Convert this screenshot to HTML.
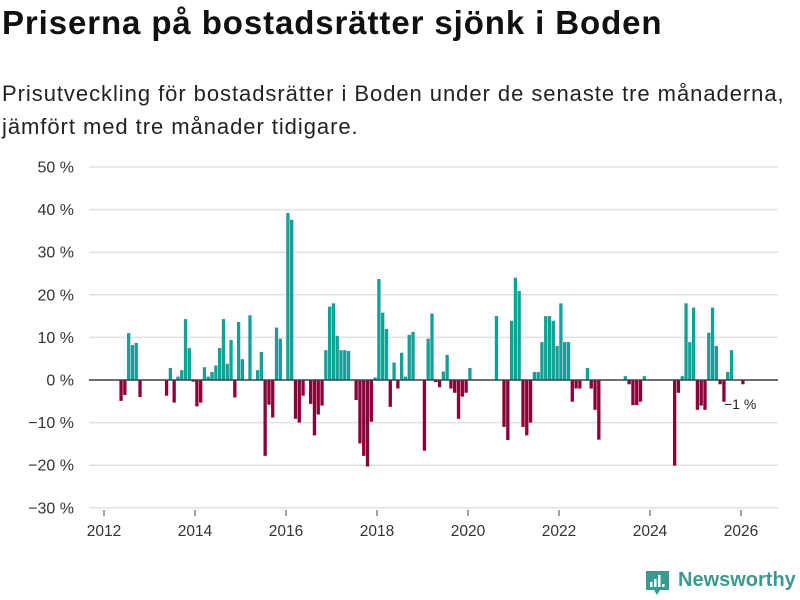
<!DOCTYPE html>
<html><head><meta charset="utf-8"><style>
body{margin:0;width:800px;height:600px;background:#fff;font-family:"Liberation Sans",sans-serif;overflow:hidden;position:relative}
h1{position:absolute;left:2px;top:4px;margin:0;font-size:33px;font-weight:bold;color:#111;letter-spacing:0.9px}
p.sub{position:absolute;left:2px;top:77px;margin:0;font-size:22px;line-height:33px;color:#222;letter-spacing:0.95px}
svg{position:absolute;left:0;top:0}
.logo{position:absolute;left:678px;top:569px;font-size:20px;font-weight:bold;color:#3a9a92}
</style></head><body>
<h1>Priserna på bostadsrätter sjönk i Boden</h1>
<p class="sub">Prisutveckling för bostadsrätter i Boden under de senaste tre månaderna,<br>jämfört med tre månader tidigare.</p>
<svg id="chart" width="800" height="600"></svg>
<svg width="30" height="30" style="left:644px;top:569px">
<path d="M2 2h23v19h-9l-3 5-3-5H2z" fill="#3a9a92"/>
<rect x="6" y="13" width="2.5" height="5" fill="#fff"/><rect x="10" y="10" width="2.5" height="8" fill="#fff"/><rect x="14" y="6" width="2.5" height="12" fill="#fff"/><rect x="18" y="15" width="2.5" height="3" fill="#fff"/>
</svg>
<div class="logo">Newsworthy</div>
<script>
const months = ["2012-05","2012-06","2012-07","2012-08","2012-09","2012-10","2013-05","2013-06","2013-07","2013-08","2013-09","2013-10","2013-11","2013-12","2014-01","2014-02","2014-03","2014-04","2014-05","2014-06","2014-07","2014-08","2014-09","2014-10","2014-11","2014-12","2015-01","2015-03","2015-05","2015-06","2015-07","2015-08","2015-09","2015-10","2015-11","2016-01","2016-02","2016-03","2016-04","2016-05","2016-07","2016-08","2016-09","2016-10","2016-11","2016-12","2017-01","2017-02","2017-03","2017-04","2017-05","2017-07","2017-08","2017-09","2017-10","2017-11","2017-12","2018-01","2018-02","2018-03","2018-04","2018-05","2018-06","2018-07","2018-08","2018-09","2018-10","2019-01","2019-02","2019-03","2019-04","2019-05","2019-06","2019-07","2019-08","2019-09","2019-10","2019-11","2019-12","2020-01","2020-08","2020-10","2020-11","2020-12","2021-01","2021-02","2021-03","2021-04","2021-05","2021-06","2021-07","2021-08","2021-09","2021-10","2021-11","2021-12","2022-01","2022-02","2022-03","2022-04","2022-05","2022-06","2022-08","2022-09","2022-10","2022-11","2023-06","2023-07","2023-08","2023-09","2023-10","2023-11","2024-07","2024-08","2024-09","2024-10","2024-11","2024-12","2025-01","2025-02","2025-03","2025-04","2025-05","2025-06","2025-07","2025-08","2025-09","2025-10","2026-01"];
const values = [-4.9,-3.5,11,8.2,8.7,-4,-3.7,2.8,-5.3,0.8,2.3,14.3,7.5,-0.4,-6.2,-5.3,3,0.8,1.9,3.4,7.5,14.3,3.8,9.4,-4.1,13.6,4.9,15.2,2.3,6.6,-17.8,-5.8,-8.8,12.3,9.7,39.2,37.6,-9.1,-10,-3.7,-5.6,-13,-8.1,-6,7,17.2,18,10.4,7,7,6.8,-4.7,-14.9,-17.8,-20.3,-9.8,0.6,23.7,15.8,12,-6.3,4.1,-2,6.4,0.8,10.6,11.3,-16.6,9.7,15.6,-0.5,-1.7,2,5.9,-2,-3,-9.1,-3.9,-3,2.8,15,-11,-14.1,13.9,24,20.9,-11,-13,-10,1.9,1.9,8.9,15,15,13.9,8,18,8.9,8.9,-5.1,-2,-2,2.8,-2,-7,-14,0.9,-1,-5.9,-5.9,-5.1,0.9,-20.1,-3,0.9,18,8.9,17,-7,-6,-7,11.1,17,8,-1,-5.1,1.9,7,-1];
const yTicks = [50,40,30,20,10,0,-10,-20,-30];
const xTicks = [2012,2014,2016,2018,2020,2022,2024,2026];

const NS="http://www.w3.org/2000/svg";
const svg=document.getElementById('chart');
const x0=104, pxYear=45.5;
function xScale(yr){return x0+(yr-2012)*pxYear;}
function yScale(v){return 380-v*4.26;}
function mk(tag,attrs){const e=document.createElementNS(NS,tag);for(const k in attrs)e.setAttribute(k,attrs[k]);svg.appendChild(e);return e;}

yTicks.forEach(t=>{
  const g=mk('line',{x1:89,x2:778,y1:yScale(t),y2:yScale(t),stroke:'#e0e0e0','stroke-width':1.5});
  
  
  const lb=mk('text',{x:74,y:yScale(t)+5.5,'text-anchor':'end','font-size':16,fill:'#333','font-family':'Liberation Sans, sans-serif'});
  lb.textContent=(t<0?'\u2212'+(-t):t)+' %';
  
  
});
xTicks.forEach(t=>{
  const tk=mk('line',{x1:xScale(t),x2:xScale(t),y1:510,y2:516,stroke:'#444','stroke-width':1});
  
  
  const lb=mk('text',{x:xScale(t),y:536,'text-anchor':'middle','font-size':15.5,fill:'#333','font-family':'Liberation Sans, sans-serif'});
  lb.textContent=t;
  
  
});
const bw=3.3;
months.forEach((m,i)=>{
  const [yy,mm]=m.split('-').map(Number);
  const cx=xScale(yy+(mm-1)/12)+1.9;
  const v=values[i];
  const top=Math.min(yScale(v),yScale(0)), h=Math.abs(yScale(v)-yScale(0));
  const r=mk('rect',{x:cx-bw/2,y:top,width:bw,height:h,fill:v>=0?'#12a197':'#8c0038'});
  
  
});
const zl=mk('line',{x1:89,x2:778,y1:380,y2:380,stroke:'#444','stroke-width':1.5});


const li=months.length-1;
const [ly,lm]=months[li].split('-').map(Number);
const lab=mk('text',{x:xScale(ly+(lm-1)/12)-17,y:409,'font-size':14,fill:'#222','font-family':'Liberation Sans, sans-serif'});
lab.textContent='\u2212'+Math.abs(Math.round(values[li]))+' %';


</script>
</body></html>
